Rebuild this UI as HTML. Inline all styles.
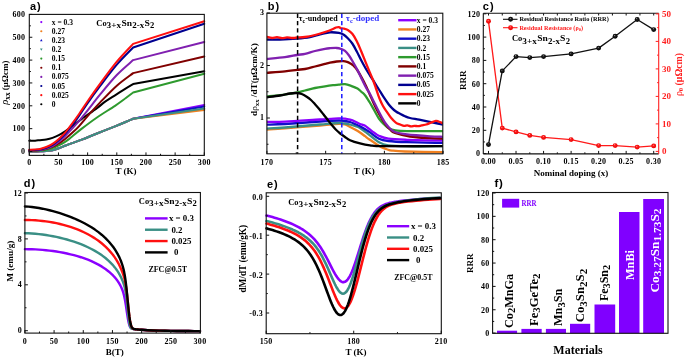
<!DOCTYPE html>
<html><head><meta charset="utf-8"><style>
html,body{margin:0;padding:0;background:#fff;}
body{width:685px;height:359px;overflow:hidden;}
svg{display:block;filter:blur(0.3px);}
</style></head><body>
<svg width="685" height="359" viewBox="0 0 685 359">
<rect width="685" height="359" fill="#fff"/>
<path d="M29.3,151.5 C30.27,151.49 33.35,151.48 35.13,151.45 C36.91,151.43 38.12,151.45 39.98,151.36 C41.83,151.28 44.18,151.12 46.28,150.93 C48.37,150.73 50.43,150.64 52.52,150.2 C54.61,149.76 56.72,149.04 58.82,148.3 C60.92,147.57 63.25,146.52 65.12,145.79 C66.98,145.05 67.24,144.92 70.02,143.89 C72.8,142.86 77.31,141.36 81.8,139.62 C86.29,137.88 91.42,135.66 96.97,133.45 C102.51,131.24 110.29,128.27 115.05,126.36 C119.81,124.46 122.54,123.3 125.55,122.02 C128.56,120.75 131.87,119.26 133.13,118.71 L204.3,104.89" fill="none" stroke="#8b00ff" stroke-width="2.0" stroke-linejoin="round" stroke-linecap="round" />
<path d="M29.3,151.5 C30.27,151.49 33.35,151.48 35.13,151.45 C36.91,151.43 38.12,151.45 39.98,151.36 C41.83,151.28 44.18,151.12 46.28,150.93 C48.37,150.73 50.43,150.64 52.52,150.2 C54.61,149.76 56.72,149.04 58.82,148.3 C60.92,147.57 63.25,146.52 65.12,145.79 C66.98,145.05 67.24,144.92 70.02,143.89 C72.8,142.86 77.31,141.36 81.8,139.62 C86.29,137.88 91.42,135.66 96.97,133.45 C102.51,131.24 110.29,128.27 115.05,126.36 C119.81,124.46 122.54,123.3 125.55,122.02 C128.56,120.75 131.87,119.26 133.13,118.71 L204.3,106.49" fill="none" stroke="#1010c8" stroke-width="2.0" stroke-linejoin="round" stroke-linecap="round" />
<path d="M29.3,151.5 C30.27,151.49 33.35,151.48 35.13,151.45 C36.91,151.43 38.12,151.45 39.98,151.36 C41.83,151.28 44.18,151.12 46.28,150.93 C48.37,150.73 50.43,150.64 52.52,150.2 C54.61,149.76 56.72,149.04 58.82,148.3 C60.92,147.57 63.25,146.52 65.12,145.79 C66.98,145.05 67.24,144.92 70.02,143.89 C72.8,142.86 77.31,141.36 81.8,139.62 C86.29,137.88 91.42,135.66 96.97,133.45 C102.51,131.24 110.29,128.27 115.05,126.36 C119.81,124.46 122.54,123.3 125.55,122.02 C128.56,120.75 131.87,119.26 133.13,118.71 L204.3,109.91" fill="none" stroke="#f08020" stroke-width="2.0" stroke-linejoin="round" stroke-linecap="round" />
<path d="M29.3,151.5 C30.27,151.49 33.35,151.48 35.13,151.45 C36.91,151.43 38.12,151.45 39.98,151.36 C41.83,151.28 44.18,151.12 46.28,150.93 C48.37,150.73 50.43,150.64 52.52,150.2 C54.61,149.76 56.72,149.04 58.82,148.3 C60.92,147.57 63.25,146.52 65.12,145.79 C66.98,145.05 67.24,144.92 70.02,143.89 C72.8,142.86 77.31,141.36 81.8,139.62 C86.29,137.88 91.42,135.66 96.97,133.45 C102.51,131.24 110.29,128.27 115.05,126.36 C119.81,124.46 122.54,123.3 125.55,122.02 C128.56,120.75 131.87,119.26 133.13,118.71 L204.3,108.54" fill="none" stroke="#3a8f85" stroke-width="2.0" stroke-linejoin="round" stroke-linecap="round" />
<path d="M29.3,151.04 C30.27,151.02 33.35,151 35.13,150.93 C36.91,150.85 38.12,150.8 39.98,150.59 C41.83,150.38 44.18,150.09 46.28,149.67 C48.37,149.25 50.43,148.8 52.52,148.07 C54.61,147.35 56.72,146.36 58.82,145.33 C60.92,144.3 63.25,143.08 65.12,141.9 C66.98,140.72 67.24,140.46 70.02,138.25 C72.8,136.04 77.31,132.12 81.8,128.65 C86.29,125.18 91.42,121.26 96.97,117.45 C102.51,113.65 110.29,109 115.05,105.8 C119.81,102.6 122.54,100.47 125.55,98.26 C128.56,96.05 131.87,93.5 133.13,92.55 L204.3,73.81" fill="none" stroke="#2e9a2e" stroke-width="2.0" stroke-linejoin="round" stroke-linecap="round" />
<path d="M29.3,140.76 C30.27,140.74 33.35,140.75 35.13,140.65 C36.91,140.54 38.12,140.33 39.98,140.14 C41.83,139.95 44.18,139.88 46.28,139.5 C48.37,139.13 50.43,138.64 52.52,137.9 C54.61,137.17 56.72,136.21 58.82,135.12 C60.92,134.02 63.25,132.57 65.12,131.32 C66.98,130.07 67.24,129.7 70.02,127.62 C72.8,125.54 77.31,122.08 81.8,118.82 C86.29,115.57 93.08,110.94 96.97,108.09 C100.86,105.23 102.12,103.82 105.13,101.69 C108.15,99.55 111.65,97.46 115.05,95.29 C118.45,93.12 122.54,90.53 125.55,88.66 C128.56,86.8 131.87,84.85 133.13,84.09 L204.3,71.3" fill="none" stroke="#000000" stroke-width="2.0" stroke-linejoin="round" stroke-linecap="round" />
<path d="M29.3,150.7 C30.27,150.66 33.35,150.57 35.13,150.47 C36.91,150.38 38.12,150.38 39.98,150.13 C41.83,149.88 44.18,149.52 46.28,148.99 C48.37,148.45 50.43,147.84 52.52,146.93 C54.61,146.02 56.72,144.84 58.82,143.5 C60.92,142.17 63.25,140.38 65.12,138.93 C66.98,137.49 67.72,136.91 70.02,134.82 C72.31,132.72 75.95,129.49 78.88,126.36 C81.82,123.24 84.08,120.08 87.63,116.08 C91.18,112.08 95.31,107.44 100.17,102.37 C105.04,97.31 111.31,90.57 116.8,85.69 C122.29,80.82 130.41,75.22 133.13,73.12 L204.3,56.44" fill="none" stroke="#800000" stroke-width="2.0" stroke-linejoin="round" stroke-linecap="round" />
<path d="M29.3,150.59 C30.27,150.55 33.35,150.47 35.13,150.36 C36.91,150.24 38.12,150.21 39.98,149.9 C41.83,149.6 44.18,149.18 46.28,148.53 C48.37,147.88 50.43,147.16 52.52,146.02 C54.61,144.87 56.72,143.35 58.82,141.67 C60.92,140 63.25,137.75 65.12,135.96 C66.98,134.17 67.72,133.41 70.02,130.94 C72.31,128.46 75.95,124.54 78.88,121.11 C81.82,117.68 84.08,114.83 87.63,110.37 C91.18,105.91 95.31,100.28 100.17,94.38 C105.04,88.47 111.31,80.67 116.8,74.95 C122.29,69.24 130.41,62.58 133.13,60.1 L204.3,42.05" fill="none" stroke="#8020b0" stroke-width="2.0" stroke-linejoin="round" stroke-linecap="round" />
<path d="M29.3,150.13 C30.27,150.09 33.35,150.01 35.13,149.9 C36.91,149.79 38.12,149.81 39.98,149.44 C41.83,149.08 44.18,148.49 46.28,147.73 C48.37,146.97 50.43,146.15 52.52,144.87 C54.61,143.6 56.72,141.9 58.82,140.07 C60.92,138.25 63.25,135.92 65.12,133.91 C66.98,131.89 67.72,130.94 70.02,127.96 C72.31,124.99 75.95,120.23 78.88,116.08 C81.82,111.93 84.08,108.08 87.63,103.06 C91.18,98.03 95.31,92.32 100.17,85.92 C105.04,79.52 111.31,71.07 116.8,64.67 C122.29,58.27 130.41,50.39 133.13,47.53 L204.3,23.77" fill="none" stroke="#000090" stroke-width="2.0" stroke-linejoin="round" stroke-linecap="round" />
<path d="M29.3,149.67 C30.27,149.63 33.35,149.57 35.13,149.44 C36.91,149.31 38.12,149.3 39.98,148.9 C41.83,148.49 44.18,147.83 46.28,147 C48.37,146.16 50.43,145.24 52.52,143.89 C54.61,142.54 56.72,140.77 58.82,138.89 C60.92,137.01 63.25,134.69 65.12,132.6 C66.98,130.52 67.72,129.42 70.02,126.36 C72.31,123.31 75.95,118.44 78.88,114.25 C81.82,110.07 84.08,106.33 87.63,101.23 C91.18,96.13 95.31,90.22 100.17,83.64 C105.04,77.05 111.31,68.33 116.8,61.7 C122.29,55.07 130.41,46.85 133.13,43.88 L204.3,21.25" fill="none" stroke="#ff1010" stroke-width="2.0" stroke-linejoin="round" stroke-linecap="round" />
<rect x="29.3" y="14.4" width="175" height="141" fill="none" stroke="#111" stroke-width="1.1"/>
<line x1="29.3" y1="155.4" x2="29.3" y2="152.4" stroke="#111" stroke-width="1" />
<line x1="43.88" y1="155.4" x2="43.88" y2="153.8" stroke="#111" stroke-width="1" />
<line x1="58.47" y1="155.4" x2="58.47" y2="152.4" stroke="#111" stroke-width="1" />
<line x1="73.05" y1="155.4" x2="73.05" y2="153.8" stroke="#111" stroke-width="1" />
<line x1="87.63" y1="155.4" x2="87.63" y2="152.4" stroke="#111" stroke-width="1" />
<line x1="102.22" y1="155.4" x2="102.22" y2="153.8" stroke="#111" stroke-width="1" />
<line x1="116.8" y1="155.4" x2="116.8" y2="152.4" stroke="#111" stroke-width="1" />
<line x1="131.38" y1="155.4" x2="131.38" y2="153.8" stroke="#111" stroke-width="1" />
<line x1="145.97" y1="155.4" x2="145.97" y2="152.4" stroke="#111" stroke-width="1" />
<line x1="160.55" y1="155.4" x2="160.55" y2="153.8" stroke="#111" stroke-width="1" />
<line x1="175.13" y1="155.4" x2="175.13" y2="152.4" stroke="#111" stroke-width="1" />
<line x1="189.72" y1="155.4" x2="189.72" y2="153.8" stroke="#111" stroke-width="1" />
<line x1="204.3" y1="155.4" x2="204.3" y2="152.4" stroke="#111" stroke-width="1" />
<line x1="29.3" y1="151.5" x2="32.3" y2="151.5" stroke="#111" stroke-width="1" />
<line x1="29.3" y1="140.07" x2="30.9" y2="140.07" stroke="#111" stroke-width="1" />
<line x1="29.3" y1="128.65" x2="32.3" y2="128.65" stroke="#111" stroke-width="1" />
<line x1="29.3" y1="117.22" x2="30.9" y2="117.22" stroke="#111" stroke-width="1" />
<line x1="29.3" y1="105.8" x2="32.3" y2="105.8" stroke="#111" stroke-width="1" />
<line x1="29.3" y1="94.38" x2="30.9" y2="94.38" stroke="#111" stroke-width="1" />
<line x1="29.3" y1="82.95" x2="32.3" y2="82.95" stroke="#111" stroke-width="1" />
<line x1="29.3" y1="71.52" x2="30.9" y2="71.52" stroke="#111" stroke-width="1" />
<line x1="29.3" y1="60.1" x2="32.3" y2="60.1" stroke="#111" stroke-width="1" />
<line x1="29.3" y1="48.67" x2="30.9" y2="48.67" stroke="#111" stroke-width="1" />
<line x1="29.3" y1="37.25" x2="32.3" y2="37.25" stroke="#111" stroke-width="1" />
<line x1="29.3" y1="25.82" x2="30.9" y2="25.82" stroke="#111" stroke-width="1" />
<line x1="29.3" y1="14.4" x2="32.3" y2="14.4" stroke="#111" stroke-width="1" />
<text x="29.3" y="165" font-family='"Liberation Serif", serif' font-size="8" font-weight="bold" fill="#000" text-anchor="middle" letter-spacing="0.3">0</text>
<text x="58.47" y="165" font-family='"Liberation Serif", serif' font-size="8" font-weight="bold" fill="#000" text-anchor="middle" letter-spacing="0.3">50</text>
<text x="87.63" y="165" font-family='"Liberation Serif", serif' font-size="8" font-weight="bold" fill="#000" text-anchor="middle" letter-spacing="0.3">100</text>
<text x="116.8" y="165" font-family='"Liberation Serif", serif' font-size="8" font-weight="bold" fill="#000" text-anchor="middle" letter-spacing="0.3">150</text>
<text x="145.97" y="165" font-family='"Liberation Serif", serif' font-size="8" font-weight="bold" fill="#000" text-anchor="middle" letter-spacing="0.3">200</text>
<text x="175.13" y="165" font-family='"Liberation Serif", serif' font-size="8" font-weight="bold" fill="#000" text-anchor="middle" letter-spacing="0.3">250</text>
<text x="204.3" y="165" font-family='"Liberation Serif", serif' font-size="8" font-weight="bold" fill="#000" text-anchor="middle" letter-spacing="0.3">300</text>
<text x="25.3" y="154.3" font-family='"Liberation Serif", serif' font-size="8" font-weight="bold" fill="#000" text-anchor="end" letter-spacing="0.3">0</text>
<text x="25.3" y="131.45" font-family='"Liberation Serif", serif' font-size="8" font-weight="bold" fill="#000" text-anchor="end" letter-spacing="0.3">100</text>
<text x="25.3" y="108.6" font-family='"Liberation Serif", serif' font-size="8" font-weight="bold" fill="#000" text-anchor="end" letter-spacing="0.3">200</text>
<text x="25.3" y="85.75" font-family='"Liberation Serif", serif' font-size="8" font-weight="bold" fill="#000" text-anchor="end" letter-spacing="0.3">300</text>
<text x="25.3" y="62.9" font-family='"Liberation Serif", serif' font-size="8" font-weight="bold" fill="#000" text-anchor="end" letter-spacing="0.3">400</text>
<text x="25.3" y="40.05" font-family='"Liberation Serif", serif' font-size="8" font-weight="bold" fill="#000" text-anchor="end" letter-spacing="0.3">500</text>
<text x="25.3" y="17.2" font-family='"Liberation Serif", serif' font-size="8" font-weight="bold" fill="#000" text-anchor="end" letter-spacing="0.3">600</text>
<text x="126" y="174.3" font-family='"Liberation Serif", serif' font-size="9" font-weight="bold" fill="#000" text-anchor="middle" >T (K)</text>
<text x="7.6" y="82.6" font-family='"Liberation Serif", serif' font-size="9" font-weight="bold" fill="#000" text-anchor="middle" transform="rotate(-90 7.6 82.6)" ><tspan font-weight="normal" font-style="italic" font-size="10.5">&#961;</tspan><tspan font-size="7.2" dy="2">xx</tspan><tspan dy="-2"> (&#956;&#937;cm)</tspan></text>
<text x="30" y="9.7" font-family='"Liberation Sans", sans-serif' font-size="11" font-weight="bold" fill="#000" text-anchor="start" letter-spacing="0.9">a)</text>
<text x="96.3" y="25.5" font-family='"Liberation Serif", serif' font-size="9" font-weight="bold" fill="#000" text-anchor="start"  textLength="10.3" lengthAdjust="spacingAndGlyphs">Co</text>
<text x="106.6" y="27.8" font-family='"Liberation Serif", serif' font-size="7.74" font-weight="bold" fill="#000" text-anchor="start"  textLength="14.6" lengthAdjust="spacingAndGlyphs">3+x</text>
<text x="121.5" y="25.5" font-family='"Liberation Serif", serif' font-size="9" font-weight="bold" fill="#000" text-anchor="start"  textLength="10.6" lengthAdjust="spacingAndGlyphs">Sn</text>
<text x="132.3" y="27.8" font-family='"Liberation Serif", serif' font-size="7.74" font-weight="bold" fill="#000" text-anchor="start"  textLength="11.9" lengthAdjust="spacingAndGlyphs">2-x</text>
<text x="144.4" y="25.5" font-family='"Liberation Serif", serif' font-size="9" font-weight="bold" fill="#000" text-anchor="start"  textLength="5.4" lengthAdjust="spacingAndGlyphs">S</text>
<text x="150" y="27.8" font-family='"Liberation Serif", serif' font-size="7.74" font-weight="bold" fill="#000" text-anchor="start"  textLength="4.3" lengthAdjust="spacingAndGlyphs">2</text>
<circle cx="41.3" cy="22.1" r="1.1" fill="#8b00ff"/>
<text x="51.8" y="24.7" font-family='"Liberation Serif", serif' font-size="7.5" font-weight="bold" fill="#000" text-anchor="start" >x = 0.3</text>
<circle cx="41.3" cy="31.23" r="1.1" fill="#f08020"/>
<text x="51.8" y="33.83" font-family='"Liberation Serif", serif' font-size="7.5" font-weight="bold" fill="#000" text-anchor="start" >0.27</text>
<path d="M41.3,39.06 l1.3,2.2 h-2.6 z" fill="#1010c8"/>
<text x="51.8" y="42.96" font-family='"Liberation Serif", serif' font-size="7.5" font-weight="bold" fill="#000" text-anchor="start" >0.23</text>
<path d="M41.3,50.79 l1.3,-2.2 h-2.6 z" fill="#3a8f85"/>
<text x="51.8" y="52.09" font-family='"Liberation Serif", serif' font-size="7.5" font-weight="bold" fill="#000" text-anchor="start" >0.2</text>
<circle cx="41.3" cy="58.62" r="1.1" fill="#2e9a2e"/>
<text x="51.8" y="61.22" font-family='"Liberation Serif", serif' font-size="7.5" font-weight="bold" fill="#000" text-anchor="start" >0.15</text>
<circle cx="41.3" cy="67.75" r="1.1" fill="#800000"/>
<text x="51.8" y="70.35" font-family='"Liberation Serif", serif' font-size="7.5" font-weight="bold" fill="#000" text-anchor="start" >0.1</text>
<circle cx="41.3" cy="76.88" r="1.1" fill="#8020b0"/>
<text x="51.8" y="79.48" font-family='"Liberation Serif", serif' font-size="7.5" font-weight="bold" fill="#000" text-anchor="start" >0.075</text>
<circle cx="41.3" cy="86.01" r="1.1" fill="#000090"/>
<text x="51.8" y="88.61" font-family='"Liberation Serif", serif' font-size="7.5" font-weight="bold" fill="#000" text-anchor="start" >0.05</text>
<circle cx="41.3" cy="95.14" r="1.1" fill="#ff1010"/>
<text x="51.8" y="97.74" font-family='"Liberation Serif", serif' font-size="7.5" font-weight="bold" fill="#000" text-anchor="start" >0.025</text>
<circle cx="41.3" cy="104.27" r="1.1" fill="#000000"/>
<text x="51.8" y="106.87" font-family='"Liberation Serif", serif' font-size="7.5" font-weight="bold" fill="#000" text-anchor="start" >0</text>
<clipPath id="cb"><rect x="266.9" y="13.2" width="175.90000000000003" height="140.60000000000002"/></clipPath>
<g clip-path="url(#cb)">
<path d="M267,129.5 C270,129.32 276.17,129.07 285,128.4 C293.83,127.73 311.08,126.25 320,125.5 C328.92,124.75 334.33,124.07 338.5,123.9 C342.67,123.73 343.08,123.98 345,124.5 C346.92,125.02 348.33,126.17 350,127 C351.67,127.83 353.33,128.58 355,129.5 C356.67,130.42 358.33,131.38 360,132.5 C361.67,133.62 363.42,135.03 365,136.2 C366.58,137.37 368,138.45 369.5,139.5 C371,140.55 372.5,141.5 374,142.5 C375.5,143.5 377,144.6 378.5,145.5 C380,146.4 381.5,147.23 383,147.9 C384.5,148.57 386,149.05 387.5,149.5 C389,149.95 389.08,150.27 392,150.6 C394.92,150.93 396.5,151.23 405,151.5 C413.5,151.77 436.67,152.08 443,152.2" fill="none" stroke="#f08020" stroke-width="2.3" stroke-linejoin="round" stroke-linecap="round" />
<path d="M267,128.6 C270,128.42 276.17,128.18 285,127.5 C293.83,126.82 311.08,125.25 320,124.5 C328.92,123.75 334.33,123.17 338.5,123 C342.67,122.83 343.08,123.25 345,123.5 C346.92,123.75 348.33,124.08 350,124.5 C351.67,124.92 353.33,125.42 355,126 C356.67,126.58 357.58,126.48 360,128 C362.42,129.52 366.35,132.73 369.5,135.1 C372.65,137.47 375.75,140.5 378.9,142.2 C382.05,143.9 383.72,144.63 388.4,145.3 C393.08,145.97 397.9,146.05 407,146.2 C416.1,146.35 437,146.2 443,146.2" fill="none" stroke="#3a8f85" stroke-width="2.3" stroke-linejoin="round" stroke-linecap="round" />
<path d="M267,124.6 C270,124.5 276.17,124.52 285,124 C293.83,123.48 311.08,122.08 320,121.5 C328.92,120.92 334.33,120.58 338.5,120.5 C342.67,120.42 343.08,120.75 345,121 C346.92,121.25 348.33,121.5 350,122 C351.67,122.5 353.33,123.28 355,124 C356.67,124.72 357.58,124.97 360,126.3 C362.42,127.63 366.35,129.93 369.5,132 C372.65,134.07 375.75,137.2 378.9,138.7 C382.05,140.2 383.72,140.42 388.4,141 C393.08,141.58 397.9,141.88 407,142.2 C416.1,142.52 437,142.78 443,142.9" fill="none" stroke="#1010c8" stroke-width="2.3" stroke-linejoin="round" stroke-linecap="round" />
<path d="M267,121.9 C270,121.87 276.17,122.1 285,121.7 C293.83,121.3 311.08,120.05 320,119.5 C328.92,118.95 334.33,118.55 338.5,118.4 C342.67,118.25 343.08,118.38 345,118.6 C346.92,118.82 348.33,119.22 350,119.7 C351.67,120.18 353.33,120.78 355,121.5 C356.67,122.22 358.38,123.32 360,124 C361.62,124.68 363.12,124.73 364.7,125.6 C366.28,126.47 367.92,128.02 369.5,129.2 C371.08,130.38 372.63,131.6 374.2,132.7 C375.77,133.8 376.53,134.8 378.9,135.8 C381.27,136.8 383.72,138.03 388.4,138.7 C393.08,139.37 397.9,139.5 407,139.8 C416.1,140.1 437,140.38 443,140.5" fill="none" stroke="#8b00ff" stroke-width="2.3" stroke-linejoin="round" stroke-linecap="round" />
<path d="M267,96.4 C269.17,96.2 276.17,95.67 280,95.2 C283.83,94.73 287.28,94.03 290,93.6 C292.72,93.17 293.8,93.12 296.3,92.6 C298.8,92.08 301.88,91.27 305,90.5 C308.12,89.73 311.67,88.7 315,88 C318.33,87.3 322,86.77 325,86.3 C328,85.83 330.68,85.47 333,85.2 C335.32,84.93 336.9,84.87 338.9,84.7 C340.9,84.53 342.98,84.02 345,84.2 C347.02,84.38 348.92,85.08 351,85.8 C353.08,86.52 355.83,87.55 357.5,88.5 C359.17,89.45 359.75,90.38 361,91.5 C362.25,92.62 363.58,93.45 365,95.2 C366.42,96.95 367.97,99.5 369.5,102 C371.03,104.5 372.63,107.45 374.2,110.2 C375.77,112.95 377.32,116.2 378.9,118.5 C380.48,120.8 382.12,122.42 383.7,124 C385.28,125.58 386.43,126.93 388.4,128 C390.37,129.07 392.4,129.88 395.5,130.4 C398.6,130.92 399.08,130.98 407,131.1 C414.92,131.22 437,131.1 443,131.1" fill="none" stroke="#2e9a2e" stroke-width="2.3" stroke-linejoin="round" stroke-linecap="round" />
<path d="M267,97.3 C269.17,97 276.17,96.13 280,95.5 C283.83,94.87 287.22,93.92 290,93.5 C292.78,93.08 294.75,92.92 296.7,93 C298.65,93.08 300.03,93.38 301.7,94 C303.37,94.62 305.15,95.7 306.7,96.7 C308.25,97.7 309.62,98.75 311,100 C312.38,101.25 313.63,102.7 315,104.2 C316.37,105.7 317.8,107.32 319.2,109 C320.6,110.68 322,112.5 323.4,114.3 C324.8,116.1 326.2,118 327.6,119.8 C329,121.6 330.4,123.43 331.8,125.1 C333.2,126.77 334.6,128.4 336,129.8 C337.4,131.2 338.7,132.3 340.2,133.5 C341.7,134.7 343.37,135.88 345,137 C346.63,138.12 347.5,139.13 350,140.2 C352.5,141.27 356.67,142.55 360,143.4 C363.33,144.25 366,144.83 370,145.3 C374,145.77 371.83,146.05 384,146.2 C396.17,146.35 433.17,146.2 443,146.2" fill="none" stroke="#000000" stroke-width="2.3" stroke-linejoin="round" stroke-linecap="round" />
<path d="M267,72.8 C270,72.55 280,71.8 285,71.3 C290,70.8 293.67,70.18 297,69.8 C300.33,69.42 302,69.55 305,69 C308,68.45 311.67,67.37 315,66.5 C318.33,65.63 322.5,64.45 325,63.8 C327.5,63.15 328.05,62.98 330,62.6 C331.95,62.22 334.47,61.73 336.7,61.5 C338.93,61.27 341.68,61.15 343.4,61.2 C345.12,61.25 345.9,61.47 347,61.8 C348.1,62.13 348.95,62.58 350,63.2 C351.05,63.82 352.05,64.28 353.3,65.5 C354.55,66.72 356.1,68.48 357.5,70.5 C358.9,72.52 360.28,75.02 361.7,77.6 C363.12,80.18 364.62,83.1 366,86 C367.38,88.9 368.67,92 370,95 C371.33,98 372.67,101.17 374,104 C375.33,106.83 376.67,109.5 378,112 C379.33,114.5 380.67,116.83 382,119 C383.33,121.17 384.67,123.25 386,125 C387.33,126.75 388.5,128.17 390,129.5 C391.5,130.83 391.67,131.83 395,133 C398.33,134.17 404.17,135.63 410,136.5 C415.83,137.37 424.5,137.83 430,138.2 C435.5,138.57 440.83,138.62 443,138.7" fill="none" stroke="#800000" stroke-width="2.3" stroke-linejoin="round" stroke-linecap="round" />
<path d="M267,59 C270,58.7 280,57.87 285,57.2 C290,56.53 293.67,55.57 297,55 C300.33,54.43 302,54.47 305,53.8 C308,53.13 311.67,51.83 315,51 C318.33,50.17 322.5,49.27 325,48.8 C327.5,48.33 328.05,48.33 330,48.2 C331.95,48.07 334.83,47.87 336.7,48 C338.57,48.13 339.82,48.52 341.2,49 C342.58,49.48 343.7,49.82 345,50.9 C346.3,51.98 347.67,53.65 349,55.5 C350.33,57.35 351.58,59.57 353,62 C354.42,64.43 356,67.18 357.5,70.1 C359,73.02 360.58,76.6 362,79.5 C363.42,82.4 364.67,85.08 366,87.5 C367.33,89.92 368.67,91.58 370,94 C371.33,96.42 372.67,99.33 374,102 C375.33,104.67 376.67,107.42 378,110 C379.33,112.58 380.67,115.17 382,117.5 C383.33,119.83 384.67,122.17 386,124 C387.33,125.83 388.5,127.17 390,128.5 C391.5,129.83 392.17,131.02 395,132 C397.83,132.98 401.17,133.68 407,134.4 C412.83,135.12 424,135.9 430,136.3 C436,136.7 440.83,136.72 443,136.8" fill="none" stroke="#8020b0" stroke-width="2.3" stroke-linejoin="round" stroke-linecap="round" />
<path d="M267,39.6 C269.17,39.58 275,39.68 280,39.5 C285,39.32 292,38.92 297,38.5 C302,38.08 306.17,37.67 310,37 C313.83,36.33 316.67,35.28 320,34.5 C323.33,33.72 326.85,32.57 330,32.3 C333.15,32.03 336.67,32.53 338.9,32.9 C341.13,33.27 341.92,33.62 343.4,34.5 C344.88,35.38 346.32,36.7 347.8,38.2 C349.28,39.7 350.8,41.28 352.3,43.5 C353.8,45.72 355.32,48.7 356.8,51.5 C358.28,54.3 359.72,57.47 361.2,60.3 C362.68,63.13 364.2,65.92 365.7,68.5 C367.2,71.08 368.72,73.45 370.2,75.8 C371.68,78.15 373.15,80.32 374.6,82.6 C376.05,84.88 377.38,87.07 378.9,89.5 C380.42,91.93 382.12,94.78 383.7,97.2 C385.28,99.62 387.02,102.18 388.4,104 C389.78,105.82 390.73,106.85 392,108.1 C393.27,109.35 394.67,110.55 396,111.5 C397.33,112.45 398.5,113 400,113.8 C401.5,114.6 403.33,115.6 405,116.3 C406.67,117 407.63,117.43 410,118 C412.37,118.57 415.7,119.02 419.2,119.7 C422.7,120.38 427.03,121.3 431,122.1 C434.97,122.9 441,124.1 443,124.5" fill="none" stroke="#000090" stroke-width="2.3" stroke-linejoin="round" stroke-linecap="round" />
<path d="M267,37 C267.83,37.17 270.33,37.97 272,38 C273.67,38.03 275.33,37.17 277,37.2 C278.67,37.23 280.33,38.17 282,38.2 C283.67,38.23 285.33,37.43 287,37.4 C288.67,37.37 290.33,37.98 292,38 C293.67,38.02 294.83,37.67 297,37.5 C299.17,37.33 302,37.42 305,37 C308,36.58 311.67,35.83 315,35 C318.33,34.17 322,33 325,32 C328,31 331.17,29.75 333,29 C334.83,28.25 335.02,27.82 336,27.5 C336.98,27.18 338.07,26.97 338.9,27.1 C339.73,27.23 340.25,28.07 341,28.3 C341.75,28.53 342.27,28.22 343.4,28.5 C344.53,28.78 346.32,29.12 347.8,30 C349.28,30.88 350.8,31.93 352.3,33.8 C353.8,35.67 355.32,38.3 356.8,41.2 C358.28,44.1 359.72,47.67 361.2,51.2 C362.68,54.73 364.27,58.87 365.7,62.4 C367.13,65.93 368.58,69.47 369.8,72.4 C371.02,75.33 371.97,77.32 373,80 C374.03,82.68 374.92,85.42 376,88.5 C377.08,91.58 378.33,95.58 379.5,98.5 C380.67,101.42 381.8,103.8 383,106 C384.2,108.2 385.4,109.78 386.7,111.7 C388,113.62 389.28,115.68 390.8,117.5 C392.32,119.32 394.23,121.43 395.8,122.6 C397.37,123.77 398.83,123.95 400.2,124.5 C401.57,125.05 402.82,125.77 404,125.9 C405.18,126.03 406.13,125.23 407.3,125.3 C408.47,125.37 409.8,126.22 411,126.3 C412.2,126.38 413.33,125.82 414.5,125.8 C415.67,125.78 416.82,126.27 418,126.2 C419.18,126.13 420.22,125.68 421.6,125.4 C422.98,125.12 424.73,124.97 426.3,124.5 C427.87,124.03 429.42,123.2 431,122.6 C432.58,122 434.55,121.08 435.8,120.9 C437.05,120.72 437.3,121.1 438.5,121.5 C439.7,121.9 442.25,123 443,123.3" fill="none" stroke="#ff1010" stroke-width="2.3" stroke-linejoin="round" stroke-linecap="round" />
</g>
<line x1="297.6" y1="13.6" x2="297.6" y2="153.8" stroke="#000" stroke-width="1.5" stroke-dasharray="4.3,3"/>
<line x1="341.8" y1="13.6" x2="341.8" y2="153.8" stroke="#1a1aff" stroke-width="1.5" stroke-dasharray="4.3,3"/>
<rect x="266.9" y="13.2" width="175.9" height="140.6" fill="none" stroke="#111" stroke-width="1.1"/>
<line x1="266.9" y1="153.8" x2="266.9" y2="150.8" stroke="#111" stroke-width="1" />
<line x1="296.27" y1="153.8" x2="296.27" y2="152.2" stroke="#111" stroke-width="1" />
<line x1="325.65" y1="153.8" x2="325.65" y2="150.8" stroke="#111" stroke-width="1" />
<line x1="355.02" y1="153.8" x2="355.02" y2="152.2" stroke="#111" stroke-width="1" />
<line x1="384.4" y1="153.8" x2="384.4" y2="150.8" stroke="#111" stroke-width="1" />
<line x1="413.77" y1="153.8" x2="413.77" y2="152.2" stroke="#111" stroke-width="1" />
<line x1="443.15" y1="153.8" x2="443.15" y2="150.8" stroke="#111" stroke-width="1" />
<line x1="266.9" y1="144.25" x2="268.5" y2="144.25" stroke="#111" stroke-width="1" />
<line x1="266.9" y1="118" x2="269.9" y2="118" stroke="#111" stroke-width="1" />
<line x1="266.9" y1="91.75" x2="268.5" y2="91.75" stroke="#111" stroke-width="1" />
<line x1="266.9" y1="65.5" x2="269.9" y2="65.5" stroke="#111" stroke-width="1" />
<line x1="266.9" y1="39.25" x2="268.5" y2="39.25" stroke="#111" stroke-width="1" />
<line x1="266.9" y1="13" x2="269.9" y2="13" stroke="#111" stroke-width="1" />
<text x="266.9" y="165" font-family='"Liberation Serif", serif' font-size="8" font-weight="bold" fill="#000" text-anchor="middle" letter-spacing="0.3">170</text>
<text x="325.65" y="165" font-family='"Liberation Serif", serif' font-size="8" font-weight="bold" fill="#000" text-anchor="middle" letter-spacing="0.3">175</text>
<text x="384.4" y="165" font-family='"Liberation Serif", serif' font-size="8" font-weight="bold" fill="#000" text-anchor="middle" letter-spacing="0.3">180</text>
<text x="443.15" y="165" font-family='"Liberation Serif", serif' font-size="8" font-weight="bold" fill="#000" text-anchor="middle" letter-spacing="0.3">185</text>
<text x="264.3" y="120" font-family='"Liberation Serif", serif' font-size="8" font-weight="bold" fill="#000" text-anchor="end" letter-spacing="0.3">1</text>
<text x="264.3" y="67.5" font-family='"Liberation Serif", serif' font-size="8" font-weight="bold" fill="#000" text-anchor="end" letter-spacing="0.3">2</text>
<text x="264.3" y="15" font-family='"Liberation Serif", serif' font-size="8" font-weight="bold" fill="#000" text-anchor="end" letter-spacing="0.3">3</text>
<text x="364.2" y="174.3" font-family='"Liberation Serif", serif' font-size="9" font-weight="bold" fill="#000" text-anchor="middle" >T (K)</text>
<text x="257" y="79.6" font-family='"Liberation Serif", serif' font-size="9.2" font-weight="bold" fill="#000" text-anchor="middle" transform="rotate(-90 257 79.6)" >d<tspan font-weight="normal">&#961;</tspan><tspan font-size="6.8" dy="1.9">xx</tspan><tspan dy="-1.9"> /dT(&#956;&#937;cm/K)</tspan></text>
<text x="267.8" y="9.8" font-family='"Liberation Sans", sans-serif' font-size="11" font-weight="bold" fill="#000" text-anchor="start" letter-spacing="0.9">b)</text>
<text x="298.8" y="21.2" font-family='"Liberation Serif", serif' font-size="8" font-weight="bold" fill="#000" text-anchor="start" >&#964;<tspan font-size="6" dy="1.5">c</tspan><tspan dy="-1.5">-undoped</tspan></text>
<text x="345.8" y="21.2" font-family='"Liberation Serif", serif' font-size="9" font-weight="bold" fill="#3333ff" text-anchor="start" >&#964;<tspan font-size="6.5" dy="1.5">c</tspan><tspan dy="-1.5">-doped</tspan></text>
<line x1="398.2" y1="20.2" x2="416.5" y2="20.2" stroke="#8b00ff" stroke-width="2.4" />
<text x="416.8" y="22.8" font-family='"Liberation Serif", serif' font-size="7.5" font-weight="bold" fill="#000" text-anchor="start" >x = 0.3</text>
<line x1="398.2" y1="29.44" x2="416.5" y2="29.44" stroke="#f08020" stroke-width="2.4" />
<text x="416.8" y="32.04" font-family='"Liberation Serif", serif' font-size="7.5" font-weight="bold" fill="#000" text-anchor="start" >0.27</text>
<line x1="398.2" y1="38.68" x2="416.5" y2="38.68" stroke="#1010c8" stroke-width="2.4" />
<text x="416.8" y="41.28" font-family='"Liberation Serif", serif' font-size="7.5" font-weight="bold" fill="#000" text-anchor="start" >0.23</text>
<line x1="398.2" y1="47.92" x2="416.5" y2="47.92" stroke="#3a8f85" stroke-width="2.4" />
<text x="416.8" y="50.52" font-family='"Liberation Serif", serif' font-size="7.5" font-weight="bold" fill="#000" text-anchor="start" >0.2</text>
<line x1="398.2" y1="57.16" x2="416.5" y2="57.16" stroke="#2e9a2e" stroke-width="2.4" />
<text x="416.8" y="59.76" font-family='"Liberation Serif", serif' font-size="7.5" font-weight="bold" fill="#000" text-anchor="start" >0.15</text>
<line x1="398.2" y1="66.4" x2="416.5" y2="66.4" stroke="#800000" stroke-width="2.4" />
<text x="416.8" y="69" font-family='"Liberation Serif", serif' font-size="7.5" font-weight="bold" fill="#000" text-anchor="start" >0.1</text>
<line x1="398.2" y1="75.64" x2="416.5" y2="75.64" stroke="#8020b0" stroke-width="2.4" />
<text x="416.8" y="78.24" font-family='"Liberation Serif", serif' font-size="7.5" font-weight="bold" fill="#000" text-anchor="start" >0.075</text>
<line x1="398.2" y1="84.88" x2="416.5" y2="84.88" stroke="#000090" stroke-width="2.4" />
<text x="416.8" y="87.48" font-family='"Liberation Serif", serif' font-size="7.5" font-weight="bold" fill="#000" text-anchor="start" >0.05</text>
<line x1="398.2" y1="94.12" x2="416.5" y2="94.12" stroke="#ff1010" stroke-width="2.4" />
<text x="416.8" y="96.72" font-family='"Liberation Serif", serif' font-size="7.5" font-weight="bold" fill="#000" text-anchor="start" >0.025</text>
<line x1="398.2" y1="103.36" x2="416.5" y2="103.36" stroke="#000000" stroke-width="2.4" />
<text x="416.8" y="105.96" font-family='"Liberation Serif", serif' font-size="7.5" font-weight="bold" fill="#000" text-anchor="start" >0</text>
<defs><radialGradient id="gk" cx="0.5" cy="0.5" fx="0.4" fy="0.3" r="0.5"><stop offset="0" stop-color="#bbb"/><stop offset="0.3" stop-color="#222"/><stop offset="1" stop-color="#000"/></radialGradient><radialGradient id="gr" cx="0.5" cy="0.5" fx="0.4" fy="0.3" r="0.5"><stop offset="0" stop-color="#ffc0c0"/><stop offset="0.3" stop-color="#ff2020"/><stop offset="1" stop-color="#e80000"/></radialGradient></defs>
<path d="M488.5,21.3 L502.27,128.1 L516.03,131.9 L529.8,135.4 L543.57,137.4 L571.11,139.6 L598.64,145.6 L615.16,145.6 L637.19,147.1 L653.71,145.9" fill="none" stroke="#ff1a1a" stroke-width="1.3" stroke-linejoin="round" stroke-linecap="round" />
<path d="M488.5,144.6 L502.27,70.9 L516.03,56.6 L529.8,57.6 L543.57,56.6 L571.11,53.9 L598.64,48.1 L615.16,36.3 L637.19,19.5 L653.71,29.6" fill="none" stroke="#111" stroke-width="1.3" stroke-linejoin="round" stroke-linecap="round" />
<circle cx="488.5" cy="21.3" r="2.45" fill="url(#gr)"/>
<circle cx="502.27" cy="128.1" r="2.45" fill="url(#gr)"/>
<circle cx="516.03" cy="131.9" r="2.45" fill="url(#gr)"/>
<circle cx="529.8" cy="135.4" r="2.45" fill="url(#gr)"/>
<circle cx="543.57" cy="137.4" r="2.45" fill="url(#gr)"/>
<circle cx="571.11" cy="139.6" r="2.45" fill="url(#gr)"/>
<circle cx="598.64" cy="145.6" r="2.45" fill="url(#gr)"/>
<circle cx="615.16" cy="145.6" r="2.45" fill="url(#gr)"/>
<circle cx="637.19" cy="147.1" r="2.45" fill="url(#gr)"/>
<circle cx="653.71" cy="145.9" r="2.45" fill="url(#gr)"/>
<circle cx="488.5" cy="144.6" r="2.45" fill="url(#gk)"/>
<circle cx="502.27" cy="70.9" r="2.45" fill="url(#gk)"/>
<circle cx="516.03" cy="56.6" r="2.45" fill="url(#gk)"/>
<circle cx="529.8" cy="57.6" r="2.45" fill="url(#gk)"/>
<circle cx="543.57" cy="56.6" r="2.45" fill="url(#gk)"/>
<circle cx="571.11" cy="53.9" r="2.45" fill="url(#gk)"/>
<circle cx="598.64" cy="48.1" r="2.45" fill="url(#gk)"/>
<circle cx="615.16" cy="36.3" r="2.45" fill="url(#gk)"/>
<circle cx="637.19" cy="19.5" r="2.45" fill="url(#gk)"/>
<circle cx="653.71" cy="29.6" r="2.45" fill="url(#gk)"/>
<line x1="483.3" y1="13.3" x2="658.7" y2="13.3" stroke="#111" stroke-width="1.1" />
<line x1="483.3" y1="153.9" x2="658.7" y2="153.9" stroke="#111" stroke-width="1.1" />
<line x1="483.3" y1="13.3" x2="483.3" y2="153.9" stroke="#111" stroke-width="1.1" />
<line x1="658.7" y1="13.3" x2="658.7" y2="153.9" stroke="#ff2020" stroke-width="1.1" />
<line x1="488.5" y1="153.9" x2="488.5" y2="150.9" stroke="#111" stroke-width="1" />
<line x1="488.5" y1="13.3" x2="488.5" y2="15.5" stroke="#111" stroke-width="1" />
<line x1="502.27" y1="153.9" x2="502.27" y2="152.3" stroke="#111" stroke-width="1" />
<line x1="502.27" y1="13.3" x2="502.27" y2="15.5" stroke="#111" stroke-width="1" />
<line x1="516.03" y1="153.9" x2="516.03" y2="150.9" stroke="#111" stroke-width="1" />
<line x1="516.03" y1="13.3" x2="516.03" y2="15.5" stroke="#111" stroke-width="1" />
<line x1="529.8" y1="153.9" x2="529.8" y2="152.3" stroke="#111" stroke-width="1" />
<line x1="529.8" y1="13.3" x2="529.8" y2="15.5" stroke="#111" stroke-width="1" />
<line x1="543.57" y1="153.9" x2="543.57" y2="150.9" stroke="#111" stroke-width="1" />
<line x1="543.57" y1="13.3" x2="543.57" y2="15.5" stroke="#111" stroke-width="1" />
<line x1="557.34" y1="153.9" x2="557.34" y2="152.3" stroke="#111" stroke-width="1" />
<line x1="557.34" y1="13.3" x2="557.34" y2="15.5" stroke="#111" stroke-width="1" />
<line x1="571.11" y1="153.9" x2="571.11" y2="150.9" stroke="#111" stroke-width="1" />
<line x1="571.11" y1="13.3" x2="571.11" y2="15.5" stroke="#111" stroke-width="1" />
<line x1="584.87" y1="153.9" x2="584.87" y2="152.3" stroke="#111" stroke-width="1" />
<line x1="584.87" y1="13.3" x2="584.87" y2="15.5" stroke="#111" stroke-width="1" />
<line x1="598.64" y1="153.9" x2="598.64" y2="150.9" stroke="#111" stroke-width="1" />
<line x1="598.64" y1="13.3" x2="598.64" y2="15.5" stroke="#111" stroke-width="1" />
<line x1="612.41" y1="153.9" x2="612.41" y2="152.3" stroke="#111" stroke-width="1" />
<line x1="612.41" y1="13.3" x2="612.41" y2="15.5" stroke="#111" stroke-width="1" />
<line x1="626.17" y1="153.9" x2="626.17" y2="150.9" stroke="#111" stroke-width="1" />
<line x1="626.17" y1="13.3" x2="626.17" y2="15.5" stroke="#111" stroke-width="1" />
<line x1="639.94" y1="153.9" x2="639.94" y2="152.3" stroke="#111" stroke-width="1" />
<line x1="639.94" y1="13.3" x2="639.94" y2="15.5" stroke="#111" stroke-width="1" />
<line x1="653.71" y1="153.9" x2="653.71" y2="150.9" stroke="#111" stroke-width="1" />
<line x1="653.71" y1="13.3" x2="653.71" y2="15.5" stroke="#111" stroke-width="1" />
<line x1="483.3" y1="153.6" x2="486.3" y2="153.6" stroke="#111" stroke-width="1" />
<line x1="483.3" y1="141.95" x2="484.9" y2="141.95" stroke="#111" stroke-width="1" />
<line x1="483.3" y1="130.3" x2="486.3" y2="130.3" stroke="#111" stroke-width="1" />
<line x1="483.3" y1="118.65" x2="484.9" y2="118.65" stroke="#111" stroke-width="1" />
<line x1="483.3" y1="107" x2="486.3" y2="107" stroke="#111" stroke-width="1" />
<line x1="483.3" y1="95.35" x2="484.9" y2="95.35" stroke="#111" stroke-width="1" />
<line x1="483.3" y1="83.7" x2="486.3" y2="83.7" stroke="#111" stroke-width="1" />
<line x1="483.3" y1="72.05" x2="484.9" y2="72.05" stroke="#111" stroke-width="1" />
<line x1="483.3" y1="60.4" x2="486.3" y2="60.4" stroke="#111" stroke-width="1" />
<line x1="483.3" y1="48.75" x2="484.9" y2="48.75" stroke="#111" stroke-width="1" />
<line x1="483.3" y1="37.1" x2="486.3" y2="37.1" stroke="#111" stroke-width="1" />
<line x1="483.3" y1="25.45" x2="484.9" y2="25.45" stroke="#111" stroke-width="1" />
<line x1="483.3" y1="13.8" x2="486.3" y2="13.8" stroke="#111" stroke-width="1" />
<line x1="658.7" y1="151.4" x2="655.7" y2="151.4" stroke="#ff2020" stroke-width="1" />
<line x1="658.7" y1="137.65" x2="657.1" y2="137.65" stroke="#ff2020" stroke-width="1" />
<line x1="658.7" y1="123.9" x2="655.7" y2="123.9" stroke="#ff2020" stroke-width="1" />
<line x1="658.7" y1="110.15" x2="657.1" y2="110.15" stroke="#ff2020" stroke-width="1" />
<line x1="658.7" y1="96.4" x2="655.7" y2="96.4" stroke="#ff2020" stroke-width="1" />
<line x1="658.7" y1="82.65" x2="657.1" y2="82.65" stroke="#ff2020" stroke-width="1" />
<line x1="658.7" y1="68.9" x2="655.7" y2="68.9" stroke="#ff2020" stroke-width="1" />
<line x1="658.7" y1="55.15" x2="657.1" y2="55.15" stroke="#ff2020" stroke-width="1" />
<line x1="658.7" y1="41.4" x2="655.7" y2="41.4" stroke="#ff2020" stroke-width="1" />
<line x1="658.7" y1="27.65" x2="657.1" y2="27.65" stroke="#ff2020" stroke-width="1" />
<line x1="658.7" y1="13.9" x2="655.7" y2="13.9" stroke="#ff2020" stroke-width="1" />
<text x="488.5" y="164.3" font-family='"Liberation Serif", serif' font-size="8" font-weight="bold" fill="#000" text-anchor="middle" letter-spacing="0.3">0.00</text>
<text x="516.03" y="164.3" font-family='"Liberation Serif", serif' font-size="8" font-weight="bold" fill="#000" text-anchor="middle" letter-spacing="0.3">0.05</text>
<text x="543.57" y="164.3" font-family='"Liberation Serif", serif' font-size="8" font-weight="bold" fill="#000" text-anchor="middle" letter-spacing="0.3">0.10</text>
<text x="571.11" y="164.3" font-family='"Liberation Serif", serif' font-size="8" font-weight="bold" fill="#000" text-anchor="middle" letter-spacing="0.3">0.15</text>
<text x="598.64" y="164.3" font-family='"Liberation Serif", serif' font-size="8" font-weight="bold" fill="#000" text-anchor="middle" letter-spacing="0.3">0.20</text>
<text x="626.17" y="164.3" font-family='"Liberation Serif", serif' font-size="8" font-weight="bold" fill="#000" text-anchor="middle" letter-spacing="0.3">0.25</text>
<text x="653.71" y="164.3" font-family='"Liberation Serif", serif' font-size="8" font-weight="bold" fill="#000" text-anchor="middle" letter-spacing="0.3">0.30</text>
<text x="480.3" y="156.4" font-family='"Liberation Serif", serif' font-size="8" font-weight="bold" fill="#000" text-anchor="end" letter-spacing="0.3">0</text>
<text x="480.3" y="133.1" font-family='"Liberation Serif", serif' font-size="8" font-weight="bold" fill="#000" text-anchor="end" letter-spacing="0.3">20</text>
<text x="480.3" y="109.8" font-family='"Liberation Serif", serif' font-size="8" font-weight="bold" fill="#000" text-anchor="end" letter-spacing="0.3">40</text>
<text x="480.3" y="86.5" font-family='"Liberation Serif", serif' font-size="8" font-weight="bold" fill="#000" text-anchor="end" letter-spacing="0.3">60</text>
<text x="480.3" y="63.2" font-family='"Liberation Serif", serif' font-size="8" font-weight="bold" fill="#000" text-anchor="end" letter-spacing="0.3">80</text>
<text x="480.3" y="39.9" font-family='"Liberation Serif", serif' font-size="8" font-weight="bold" fill="#000" text-anchor="end" letter-spacing="0.3">100</text>
<text x="480.3" y="16.6" font-family='"Liberation Serif", serif' font-size="8" font-weight="bold" fill="#000" text-anchor="end" letter-spacing="0.3">120</text>
<text x="661.9" y="154" font-family='"Liberation Serif", serif' font-size="9" font-weight="bold" fill="#ff2020" text-anchor="start" >0</text>
<text x="661.9" y="126.5" font-family='"Liberation Serif", serif' font-size="9" font-weight="bold" fill="#ff2020" text-anchor="start" >10</text>
<text x="661.9" y="99" font-family='"Liberation Serif", serif' font-size="9" font-weight="bold" fill="#ff2020" text-anchor="start" >20</text>
<text x="661.9" y="71.5" font-family='"Liberation Serif", serif' font-size="9" font-weight="bold" fill="#ff2020" text-anchor="start" >30</text>
<text x="661.9" y="44" font-family='"Liberation Serif", serif' font-size="9" font-weight="bold" fill="#ff2020" text-anchor="start" >40</text>
<text x="661.9" y="16.5" font-family='"Liberation Serif", serif' font-size="9" font-weight="bold" fill="#ff2020" text-anchor="start" >50</text>
<text x="571" y="175.9" font-family='"Liberation Serif", serif' font-size="9" font-weight="bold" fill="#000" text-anchor="middle" >Nominal doping (x)</text>
<text x="466.5" y="80.3" font-family='"Liberation Serif", serif' font-size="9" font-weight="bold" fill="#000" text-anchor="middle" transform="rotate(-90 466.5 80.3)" >RRR</text>
<text x="681.6" y="74.5" font-family='"Liberation Serif", serif' font-size="9.8" font-weight="bold" fill="#ff2020" text-anchor="middle" transform="rotate(-90 681.6 74.5)" ><tspan font-weight="normal">&#961;</tspan><tspan font-size="6.5" dy="1.8">0</tspan><tspan dy="-1.8"> (&#956;&#937;cm)</tspan></text>
<text x="482.8" y="10" font-family='"Liberation Sans", sans-serif' font-size="11" font-weight="bold" fill="#000" text-anchor="start" letter-spacing="1.2">c)</text>
<line x1="503" y1="19.3" x2="517.5" y2="19.3" stroke="#111" stroke-width="1.1" />
<circle cx="510.6" cy="19.3" r="2.45" fill="url(#gk)"/>
<text x="519.4" y="21.4" font-family='"Liberation Serif", serif' font-size="6.3" font-weight="bold" fill="#000" text-anchor="start"  textLength="89.4" lengthAdjust="spacingAndGlyphs">Residual Resistance Ratio (RRR)</text>
<line x1="503" y1="27.7" x2="517.5" y2="27.7" stroke="#ff1a1a" stroke-width="1.1" />
<circle cx="510.6" cy="27.7" r="2.45" fill="url(#gr)"/>
<text x="519.4" y="29.8" font-family='"Liberation Serif", serif' font-size="6.2" font-weight="bold" fill="#ff1a1a" text-anchor="start" >Residual Resistance (&#961;<tspan font-size="4.5" dy="1.2">0</tspan><tspan dy="-1.2">)</tspan></text>
<text x="512" y="41.3" font-family='"Liberation Serif", serif' font-size="9" font-weight="bold" fill="#000" text-anchor="start"  textLength="10.3" lengthAdjust="spacingAndGlyphs">Co</text>
<text x="522.3" y="43.6" font-family='"Liberation Serif", serif' font-size="7.74" font-weight="bold" fill="#000" text-anchor="start"  textLength="14.6" lengthAdjust="spacingAndGlyphs">3+x</text>
<text x="537.2" y="41.3" font-family='"Liberation Serif", serif' font-size="9" font-weight="bold" fill="#000" text-anchor="start"  textLength="10.6" lengthAdjust="spacingAndGlyphs">Sn</text>
<text x="548" y="43.6" font-family='"Liberation Serif", serif' font-size="7.74" font-weight="bold" fill="#000" text-anchor="start"  textLength="11.9" lengthAdjust="spacingAndGlyphs">2-x</text>
<text x="560.1" y="41.3" font-family='"Liberation Serif", serif' font-size="9" font-weight="bold" fill="#000" text-anchor="start"  textLength="5.4" lengthAdjust="spacingAndGlyphs">S</text>
<text x="565.7" y="43.6" font-family='"Liberation Serif", serif' font-size="7.74" font-weight="bold" fill="#000" text-anchor="start"  textLength="4.3" lengthAdjust="spacingAndGlyphs">2</text>
<path d="M24.9,249.14 L28.4,249.18 L31.9,249.27 L35.41,249.42 L38.91,249.63 L42.41,249.89 L45.91,250.22 L49.42,250.6 L52.92,251.05 L56.42,251.56 L59.92,252.13 L63.42,252.78 L66.93,253.5 L70.43,254.3 L73.93,255.18 L77.43,256.15 L80.94,257.23 L84.44,258.42 L87.94,259.73 L91.44,261.19 L94.94,262.81 L98.45,264.62 L101.95,266.66 L105.45,268.99 L108.95,271.68 L112.45,274.87 L113.04,275.46 L113.62,276.07 L114.21,276.71 L114.79,277.37 L115.37,278.06 L115.96,278.77 L116.54,279.52 L117.12,280.3 L117.71,281.13 L118.29,281.99 L118.88,282.9 L119.46,283.87 L120.04,284.9 L120.63,286.01 L121.21,287.21 L121.79,288.52 L122.38,290 L122.96,291.68 L123.55,293.63 L124.13,295.93 L124.71,298.65 L125.3,301.83 L125.88,305.43 L126.46,309.33 L127.05,313.32 L127.63,317.12 L128.21,320.48 L128.8,323.21 L129.38,325.27 L129.97,326.69 L130.55,327.59 L131.13,328.2 L131.72,328.56 L132.3,328.78 L132.88,328.91 L133.47,329.01 L134.05,329.09 L134.64,329.16 L135.22,329.23 L135.8,329.29 L136.39,329.35 L136.97,329.41 L137.55,329.47 L138.14,329.52 L138.72,329.58 L139.31,329.63 L139.89,329.68 L140.47,329.73 L141.06,329.77 L141.64,329.82 L147.48,330.2 L153.31,330.47 L159.15,330.67 L164.99,330.81 L170.83,330.91 L176.66,330.98 L182.5,331.03 L188.34,331.07 L194.17,331.09 L200.01,331.11" fill="none" stroke="#8b00ff" stroke-width="2.4" stroke-linejoin="round" stroke-linecap="round" />
<path d="M24.9,233.21 L28.4,233.29 L31.9,233.48 L35.41,233.75 L38.91,234.1 L42.41,234.53 L45.91,235.02 L49.42,235.59 L52.92,236.23 L56.42,236.93 L59.92,237.72 L63.42,238.58 L66.93,239.52 L70.43,240.54 L73.93,241.66 L77.43,242.88 L80.94,244.21 L84.44,245.65 L87.94,247.23 L91.44,248.97 L94.94,250.88 L98.45,252.99 L101.95,255.35 L105.45,258.01 L108.95,261.06 L112.45,264.62 L113.04,265.28 L113.62,265.96 L114.21,266.66 L114.79,267.38 L115.37,268.14 L115.96,268.92 L116.54,269.73 L117.12,270.57 L117.71,271.46 L118.29,272.38 L118.88,273.35 L119.46,274.37 L120.04,275.44 L120.63,276.57 L121.21,277.77 L121.79,279.04 L122.38,280.41 L122.96,281.88 L123.55,283.5 L124.13,285.34 L124.71,287.55 L125.3,290.33 L125.88,293.9 L126.46,298.38 L127.05,303.7 L127.63,309.47 L128.21,315.08 L128.8,319.92 L129.38,323.59 L129.97,326.03 L130.55,327.45 L131.13,328.24 L131.72,328.63 L132.3,328.83 L132.88,328.94 L133.47,329.02 L134.05,329.09 L134.64,329.16 L135.22,329.23 L135.8,329.29 L136.39,329.35 L136.97,329.41 L137.55,329.47 L138.14,329.52 L138.72,329.58 L139.31,329.63 L139.89,329.68 L140.47,329.73 L141.06,329.77 L141.64,329.82 L147.48,330.2 L153.31,330.47 L159.15,330.67 L164.99,330.81 L170.83,330.91 L176.66,330.98 L182.5,331.03 L188.34,331.07 L194.17,331.09 L200.01,331.11" fill="none" stroke="#3a8f85" stroke-width="2.4" stroke-linejoin="round" stroke-linecap="round" />
<path d="M24.9,219.96 L28.4,220.01 L31.9,220.13 L35.41,220.32 L38.91,220.6 L42.41,220.95 L45.91,221.39 L49.42,221.91 L52.92,222.51 L56.42,223.19 L59.92,223.97 L63.42,224.84 L66.93,225.82 L70.43,226.9 L73.93,228.1 L77.43,229.42 L80.94,230.87 L84.44,232.48 L87.94,234.25 L91.44,236.21 L94.94,238.38 L98.45,240.8 L101.95,243.52 L105.45,246.59 L108.95,250.12 L112.45,254.24 L113.04,255 L113.62,255.79 L114.21,256.6 L114.79,257.43 L115.37,258.3 L115.96,259.2 L116.54,260.13 L117.12,261.1 L117.71,262.11 L118.29,263.16 L118.88,264.27 L119.46,265.42 L120.04,266.63 L120.63,267.91 L121.21,269.26 L121.79,270.68 L122.38,272.2 L122.96,273.82 L123.55,275.59 L124.13,277.55 L124.71,279.81 L125.3,282.51 L125.88,285.79 L126.46,289.8 L127.05,294.55 L127.63,299.91 L128.21,305.57 L128.8,311.13 L129.38,316.17 L129.97,320.35 L130.55,323.53 L131.13,325.81 L131.72,327.27 L132.3,328.14 L132.88,328.63 L133.47,328.89 L134.05,329.05 L134.64,329.15 L135.22,329.22 L135.8,329.29 L136.39,329.35 L136.97,329.41 L137.55,329.47 L138.14,329.52 L138.72,329.58 L139.31,329.63 L139.89,329.68 L140.47,329.73 L141.06,329.77 L141.64,329.82 L147.48,330.2 L153.31,330.47 L159.15,330.67 L164.99,330.81 L170.83,330.91 L176.66,330.98 L182.5,331.03 L188.34,331.07 L194.17,331.09 L200.01,331.11" fill="none" stroke="#ff1010" stroke-width="2.4" stroke-linejoin="round" stroke-linecap="round" />
<path d="M24.9,206.47 L28.4,206.65 L31.9,207.01 L35.41,207.48 L38.91,208.05 L42.41,208.7 L45.91,209.44 L49.42,210.25 L52.92,211.14 L56.42,212.11 L59.92,213.17 L63.42,214.3 L66.93,215.53 L70.43,216.85 L73.93,218.27 L77.43,219.8 L80.94,221.46 L84.44,223.24 L87.94,225.18 L91.44,227.29 L94.94,229.6 L98.45,232.14 L101.95,234.96 L105.45,238.14 L108.95,241.76 L112.45,245.98 L113.04,246.76 L113.62,247.57 L114.21,248.4 L114.79,249.26 L115.37,250.15 L115.96,251.08 L116.54,252.05 L117.12,253.05 L117.71,254.1 L118.29,255.2 L118.88,256.36 L119.46,257.58 L120.04,258.87 L120.63,260.25 L121.21,261.72 L121.79,263.32 L122.38,265.07 L122.96,267.02 L123.55,269.26 L124.13,271.86 L124.71,274.96 L125.3,278.68 L125.88,283.1 L126.46,288.24 L127.05,293.95 L127.63,299.99 L128.21,305.99 L128.8,311.58 L129.38,316.44 L129.97,320.4 L130.55,323.39 L131.13,325.58 L131.72,327.04 L132.3,327.95 L132.88,328.5 L133.47,328.82 L134.05,329.01 L134.64,329.13 L135.22,329.21 L135.8,329.29 L136.39,329.35 L136.97,329.41 L137.55,329.47 L138.14,329.52 L138.72,329.58 L139.31,329.63 L139.89,329.68 L140.47,329.73 L141.06,329.77 L141.64,329.82 L147.48,330.2 L153.31,330.47 L159.15,330.67 L164.99,330.81 L170.83,330.91 L176.66,330.98 L182.5,331.03 L188.34,331.07 L194.17,331.09 L200.01,331.11" fill="none" stroke="#000000" stroke-width="2.4" stroke-linejoin="round" stroke-linecap="round" />
<rect x="24.9" y="192.5" width="175.5" height="140.6" fill="none" stroke="#111" stroke-width="1.1"/>
<line x1="24.9" y1="333.1" x2="24.9" y2="330.1" stroke="#111" stroke-width="1" />
<line x1="39.49" y1="333.1" x2="39.49" y2="331.5" stroke="#111" stroke-width="1" />
<line x1="54.08" y1="333.1" x2="54.08" y2="330.1" stroke="#111" stroke-width="1" />
<line x1="68.68" y1="333.1" x2="68.68" y2="331.5" stroke="#111" stroke-width="1" />
<line x1="83.27" y1="333.1" x2="83.27" y2="330.1" stroke="#111" stroke-width="1" />
<line x1="97.86" y1="333.1" x2="97.86" y2="331.5" stroke="#111" stroke-width="1" />
<line x1="112.45" y1="333.1" x2="112.45" y2="330.1" stroke="#111" stroke-width="1" />
<line x1="127.05" y1="333.1" x2="127.05" y2="331.5" stroke="#111" stroke-width="1" />
<line x1="141.64" y1="333.1" x2="141.64" y2="330.1" stroke="#111" stroke-width="1" />
<line x1="156.23" y1="333.1" x2="156.23" y2="331.5" stroke="#111" stroke-width="1" />
<line x1="170.83" y1="333.1" x2="170.83" y2="330.1" stroke="#111" stroke-width="1" />
<line x1="185.42" y1="333.1" x2="185.42" y2="331.5" stroke="#111" stroke-width="1" />
<line x1="200.01" y1="333.1" x2="200.01" y2="330.1" stroke="#111" stroke-width="1" />
<line x1="24.9" y1="330.7" x2="27.9" y2="330.7" stroke="#111" stroke-width="1" />
<line x1="24.9" y1="307.75" x2="26.5" y2="307.75" stroke="#111" stroke-width="1" />
<line x1="24.9" y1="284.8" x2="27.9" y2="284.8" stroke="#111" stroke-width="1" />
<line x1="24.9" y1="261.85" x2="26.5" y2="261.85" stroke="#111" stroke-width="1" />
<line x1="24.9" y1="238.9" x2="27.9" y2="238.9" stroke="#111" stroke-width="1" />
<line x1="24.9" y1="215.95" x2="26.5" y2="215.95" stroke="#111" stroke-width="1" />
<line x1="24.9" y1="193" x2="27.9" y2="193" stroke="#111" stroke-width="1" />
<text x="24.9" y="343.7" font-family='"Liberation Serif", serif' font-size="8" font-weight="bold" fill="#000" text-anchor="middle" letter-spacing="0.3">0</text>
<text x="54.08" y="343.7" font-family='"Liberation Serif", serif' font-size="8" font-weight="bold" fill="#000" text-anchor="middle" letter-spacing="0.3">50</text>
<text x="83.27" y="343.7" font-family='"Liberation Serif", serif' font-size="8" font-weight="bold" fill="#000" text-anchor="middle" letter-spacing="0.3">100</text>
<text x="112.45" y="343.7" font-family='"Liberation Serif", serif' font-size="8" font-weight="bold" fill="#000" text-anchor="middle" letter-spacing="0.3">150</text>
<text x="141.64" y="343.7" font-family='"Liberation Serif", serif' font-size="8" font-weight="bold" fill="#000" text-anchor="middle" letter-spacing="0.3">200</text>
<text x="170.83" y="343.7" font-family='"Liberation Serif", serif' font-size="8" font-weight="bold" fill="#000" text-anchor="middle" letter-spacing="0.3">250</text>
<text x="200.01" y="343.7" font-family='"Liberation Serif", serif' font-size="8" font-weight="bold" fill="#000" text-anchor="middle" letter-spacing="0.3">300</text>
<text x="22" y="333.3" font-family='"Liberation Serif", serif' font-size="8" font-weight="bold" fill="#000" text-anchor="end" letter-spacing="0.3">0</text>
<text x="22" y="287.4" font-family='"Liberation Serif", serif' font-size="8" font-weight="bold" fill="#000" text-anchor="end" letter-spacing="0.3">4</text>
<text x="22" y="241.5" font-family='"Liberation Serif", serif' font-size="8" font-weight="bold" fill="#000" text-anchor="end" letter-spacing="0.3">8</text>
<text x="22" y="195.6" font-family='"Liberation Serif", serif' font-size="8" font-weight="bold" fill="#000" text-anchor="end" letter-spacing="0.3">12</text>
<text x="114.7" y="354.6" font-family='"Liberation Serif", serif' font-size="9" font-weight="bold" fill="#000" text-anchor="middle" >B(T)</text>
<text x="12.8" y="261.2" font-family='"Liberation Serif", serif' font-size="9.2" font-weight="bold" fill="#000" text-anchor="middle" transform="rotate(-90 12.8 261.2)" >M (emu/g)</text>
<text x="23.8" y="186.8" font-family='"Liberation Sans", sans-serif' font-size="11" font-weight="bold" fill="#000" text-anchor="start" letter-spacing="0.9">d)</text>
<text x="138.8" y="203.8" font-family='"Liberation Serif", serif' font-size="9" font-weight="bold" fill="#000" text-anchor="start"  textLength="10.3" lengthAdjust="spacingAndGlyphs">Co</text>
<text x="149.1" y="206.1" font-family='"Liberation Serif", serif' font-size="7.74" font-weight="bold" fill="#000" text-anchor="start"  textLength="14.6" lengthAdjust="spacingAndGlyphs">3+x</text>
<text x="164" y="203.8" font-family='"Liberation Serif", serif' font-size="9" font-weight="bold" fill="#000" text-anchor="start"  textLength="10.6" lengthAdjust="spacingAndGlyphs">Sn</text>
<text x="174.8" y="206.1" font-family='"Liberation Serif", serif' font-size="7.74" font-weight="bold" fill="#000" text-anchor="start"  textLength="11.9" lengthAdjust="spacingAndGlyphs">2-x</text>
<text x="186.9" y="203.8" font-family='"Liberation Serif", serif' font-size="9" font-weight="bold" fill="#000" text-anchor="start"  textLength="5.4" lengthAdjust="spacingAndGlyphs">S</text>
<text x="192.5" y="206.1" font-family='"Liberation Serif", serif' font-size="7.74" font-weight="bold" fill="#000" text-anchor="start"  textLength="4.3" lengthAdjust="spacingAndGlyphs">2</text>
<line x1="145" y1="218.4" x2="167.6" y2="218.4" stroke="#8b00ff" stroke-width="2.4" />
<text x="168.9" y="221.4" font-family='"Liberation Serif", serif' font-size="8.9" font-weight="bold" fill="#000" text-anchor="start" >x = 0.3</text>
<line x1="145" y1="229.73" x2="167.6" y2="229.73" stroke="#3a8f85" stroke-width="2.4" />
<text x="171.4" y="232.73" font-family='"Liberation Serif", serif' font-size="8.9" font-weight="bold" fill="#000" text-anchor="start" >0.2</text>
<line x1="145" y1="241.06" x2="167.6" y2="241.06" stroke="#ff1010" stroke-width="2.4" />
<text x="171.4" y="244.06" font-family='"Liberation Serif", serif' font-size="8.9" font-weight="bold" fill="#000" text-anchor="start" >0.025</text>
<line x1="145" y1="252.39" x2="167.6" y2="252.39" stroke="#000000" stroke-width="2.4" />
<text x="173.9" y="255.39" font-family='"Liberation Serif", serif' font-size="8.9" font-weight="bold" fill="#000" text-anchor="start" >0</text>
<text x="148.4" y="271.6" font-family='"Liberation Serif", serif' font-size="8" font-weight="bold" fill="#000" text-anchor="start"  textLength="38.8" lengthAdjust="spacingAndGlyphs">ZFC@0.5T</text>
<path d="M266.5,215.48 L268.5,215.99 L270.5,216.52 L272.5,217.08 L274.5,217.65 L276.5,218.25 L278.5,218.88 L280.5,219.53 L282.5,220.21 L284.5,220.92 L286.5,221.67 L288.5,222.46 L290.5,223.29 L292.5,224.16 L294.5,225.09 L296.5,226.08 L298.5,227.13 L300.5,228.25 L302.5,229.46 L304.5,230.77 L306.5,232.19 L308.5,233.75 L310.5,235.46 L312.5,237.36 L314.5,239.46 L316.5,241.8 L318.5,244.4 L320,246.53 L321,248.04 L322,249.62 L323,251.27 L324,252.99 L325,254.77 L326,256.61 L327,258.5 L328,260.44 L329,262.4 L330,264.38 L331,266.35 L332,268.31 L333,270.23 L334,272.09 L335,273.87 L336,275.54 L337,277.07 L338,278.45 L339,279.65 L340,280.64 L341,281.4 L342,281.91 L343,282.16 L344,282.13 L345,281.81 L346,281.19 L347,280.27 L348,279.06 L349,277.55 L350,275.77 L351,273.72 L352,271.43 L353,268.92 L354,266.22 L355,263.35 L356,260.35 L357,257.25 L358,254.07 L359,250.86 L360,247.64 L361,244.45 L362,241.3 L363,238.23 L364,235.25 L365,232.39 L366,229.66 L367,227.07 L368,224.64 L369,222.36 L370,220.25 L371,218.3 L372,216.51 L373,214.87 L374,213.39 L375,212.04 L376,210.84 L377,209.75 L378,208.78 L379,207.92 L380,207.15 L381,206.47 L382,205.87 L383,205.33 L384,204.85 L385,204.43 L386,204.05 L387,203.71 L388,203.41 L389,203.13 L390,202.88 L391,202.65 L392,202.44 L393,202.24 L394,202.06 L395,201.89 L396,201.72 L397,201.57 L398,201.42 L399,201.28 L400,201.15 L404,200.65 L408,200.21 L412,199.82 L416,199.47 L420,199.15 L424,198.87 L428,198.61 L432,198.38 L436,198.18 L440,197.99" fill="none" stroke="#8b00ff" stroke-width="2.6" stroke-linejoin="round" stroke-linecap="round" />
<path d="M266.5,221.02 L268.5,221.52 L270.5,222.05 L272.5,222.59 L274.5,223.15 L276.5,223.74 L278.5,224.35 L280.5,224.99 L282.5,225.66 L284.5,226.37 L286.5,227.1 L288.5,227.88 L290.5,228.7 L292.5,229.56 L294.5,230.48 L296.5,231.46 L298.5,232.51 L300.5,233.64 L302.5,234.85 L304.5,236.18 L306.5,237.62 L308.5,239.22 L310.5,240.98 L312.5,242.96 L314.5,245.17 L316.5,247.67 L318.5,250.48 L320,252.81 L321,254.48 L322,256.24 L323,258.1 L324,260.04 L325,262.06 L326,264.17 L327,266.34 L328,268.58 L329,270.86 L330,273.16 L331,275.48 L332,277.78 L333,280.03 L334,282.22 L335,284.31 L336,286.26 L337,288.06 L338,289.65 L339,291.02 L340,292.14 L341,292.96 L342,293.47 L343,293.66 L344,293.49 L345,292.97 L346,292.08 L347,290.83 L348,289.22 L349,287.26 L350,284.99 L351,282.4 L352,279.55 L353,276.46 L354,273.17 L355,269.71 L356,266.12 L357,262.46 L358,258.75 L359,255.03 L360,251.35 L361,247.73 L362,244.21 L363,240.81 L364,237.55 L365,234.46 L366,231.54 L367,228.8 L368,226.25 L369,223.9 L370,221.73 L371,219.74 L372,217.94 L373,216.3 L374,214.83 L375,213.5 L376,212.3 L377,211.23 L378,210.28 L379,209.42 L380,208.65 L381,207.97 L382,207.35 L383,206.79 L384,206.29 L385,205.83 L386,205.42 L387,205.03 L388,204.68 L389,204.35 L390,204.04 L391,203.76 L392,203.48 L393,203.23 L394,202.99 L395,202.75 L396,202.53 L397,202.32 L398,202.12 L399,201.92 L400,201.73 L404,201.05 L408,200.45 L412,199.92 L416,199.47 L420,199.07 L424,198.72 L428,198.42 L432,198.15 L436,197.92 L440,197.71" fill="none" stroke="#3a8f85" stroke-width="2.6" stroke-linejoin="round" stroke-linecap="round" />
<path d="M266.5,223.58 L268.5,224.1 L270.5,224.64 L272.5,225.2 L274.5,225.79 L276.5,226.4 L278.5,227.05 L280.5,227.72 L282.5,228.43 L284.5,229.18 L286.5,229.97 L288.5,230.8 L290.5,231.69 L292.5,232.64 L294.5,233.65 L296.5,234.73 L298.5,235.91 L300.5,237.18 L302.5,238.57 L304.5,240.11 L306.5,241.8 L308.5,243.69 L310.5,245.8 L312.5,248.17 L314.5,250.84 L316.5,253.84 L318.5,257.19 L320,259.96 L321,261.92 L322,263.98 L323,266.13 L324,268.37 L325,270.7 L326,273.1 L327,275.56 L328,278.09 L329,280.65 L330,283.23 L331,285.82 L332,288.39 L333,290.91 L334,293.38 L335,295.75 L336,298 L337,300.1 L338,302.02 L339,303.74 L340,305.22 L341,306.45 L342,307.39 L343,308.03 L344,308.34 L345,308.32 L346,307.95 L347,307.23 L348,306.15 L349,304.71 L350,302.93 L351,300.82 L352,298.39 L353,295.66 L354,292.67 L355,289.43 L356,285.98 L357,282.34 L358,278.57 L359,274.68 L360,270.73 L361,266.73 L362,262.72 L363,258.75 L364,254.83 L365,250.99 L366,247.26 L367,243.67 L368,240.22 L369,236.93 L370,233.82 L371,230.89 L372,228.15 L373,225.6 L374,223.24 L375,221.06 L376,219.07 L377,217.25 L378,215.6 L379,214.11 L380,212.77 L381,211.56 L382,210.48 L383,209.52 L384,208.66 L385,207.9 L386,207.22 L387,206.62 L388,206.09 L389,205.62 L390,205.2 L391,204.82 L392,204.48 L393,204.18 L394,203.91 L395,203.66 L396,203.43 L397,203.22 L398,203.02 L399,202.84 L400,202.67 L404,202.08 L408,201.57 L412,201.12 L416,200.72 L420,200.35 L424,200.01 L428,199.7 L432,199.42 L436,199.16 L440,198.92" fill="none" stroke="#ff1010" stroke-width="2.6" stroke-linejoin="round" stroke-linecap="round" />
<path d="M266.5,228.38 L268.5,228.92 L270.5,229.49 L272.5,230.08 L274.5,230.71 L276.5,231.37 L278.5,232.06 L280.5,232.79 L282.5,233.56 L284.5,234.38 L286.5,235.26 L288.5,236.19 L290.5,237.2 L292.5,238.28 L294.5,239.45 L296.5,240.73 L298.5,242.14 L300.5,243.69 L302.5,245.42 L304.5,247.35 L306.5,249.52 L308.5,251.97 L310.5,254.73 L312.5,257.85 L314.5,261.35 L316.5,265.26 L318.5,269.58 L320,273.08 L321,275.53 L322,278.05 L323,280.65 L324,283.31 L325,286.01 L326,288.73 L327,291.46 L328,294.16 L329,296.83 L330,299.42 L331,301.91 L332,304.28 L333,306.48 L334,308.5 L335,310.3 L336,311.84 L337,313.12 L338,314.09 L339,314.74 L340,315.05 L341,315 L342,314.58 L343,313.79 L344,312.62 L345,311.09 L346,309.19 L347,306.93 L348,304.35 L349,301.46 L350,298.28 L351,294.86 L352,291.21 L353,287.38 L354,283.4 L355,279.3 L356,275.13 L357,270.93 L358,266.72 L359,262.54 L360,258.42 L361,254.39 L362,250.47 L363,246.7 L364,243.07 L365,239.62 L366,236.35 L367,233.27 L368,230.39 L369,227.7 L370,225.21 L371,222.91 L372,220.8 L373,218.87 L374,217.12 L375,215.53 L376,214.09 L377,212.79 L378,211.62 L379,210.57 L380,209.64 L381,208.8 L382,208.05 L383,207.38 L384,206.77 L385,206.24 L386,205.75 L387,205.31 L388,204.92 L389,204.56 L390,204.23 L391,203.93 L392,203.65 L393,203.39 L394,203.15 L395,202.93 L396,202.71 L397,202.51 L398,202.32 L399,202.14 L400,201.97 L404,201.34 L408,200.79 L412,200.31 L416,199.88 L420,199.49 L424,199.15 L428,198.85 L432,198.57 L436,198.33 L440,198.11" fill="none" stroke="#000000" stroke-width="2.6" stroke-linejoin="round" stroke-linecap="round" />
<rect x="266.2" y="192.8" width="175.1" height="140.9" fill="none" stroke="#111" stroke-width="1.1"/>
<line x1="266.2" y1="333.7" x2="266.2" y2="330.7" stroke="#111" stroke-width="1" />
<line x1="309.95" y1="333.7" x2="309.95" y2="332.1" stroke="#111" stroke-width="1" />
<line x1="353.71" y1="333.7" x2="353.71" y2="330.7" stroke="#111" stroke-width="1" />
<line x1="397.46" y1="333.7" x2="397.46" y2="332.1" stroke="#111" stroke-width="1" />
<line x1="441.22" y1="333.7" x2="441.22" y2="330.7" stroke="#111" stroke-width="1" />
<line x1="266.2" y1="196.3" x2="269.2" y2="196.3" stroke="#111" stroke-width="1" />
<line x1="266.2" y1="215.75" x2="267.8" y2="215.75" stroke="#111" stroke-width="1" />
<line x1="266.2" y1="235.2" x2="269.2" y2="235.2" stroke="#111" stroke-width="1" />
<line x1="266.2" y1="254.65" x2="267.8" y2="254.65" stroke="#111" stroke-width="1" />
<line x1="266.2" y1="274.1" x2="269.2" y2="274.1" stroke="#111" stroke-width="1" />
<line x1="266.2" y1="293.55" x2="267.8" y2="293.55" stroke="#111" stroke-width="1" />
<line x1="266.2" y1="313" x2="269.2" y2="313" stroke="#111" stroke-width="1" />
<text x="266.2" y="343.7" font-family='"Liberation Serif", serif' font-size="8" font-weight="bold" fill="#000" text-anchor="middle" letter-spacing="0.3">150</text>
<text x="353.71" y="343.7" font-family='"Liberation Serif", serif' font-size="8" font-weight="bold" fill="#000" text-anchor="middle" letter-spacing="0.3">180</text>
<text x="441.22" y="343.7" font-family='"Liberation Serif", serif' font-size="8" font-weight="bold" fill="#000" text-anchor="middle" letter-spacing="0.3">210</text>
<text x="263.1" y="199.7" font-family='"Liberation Serif", serif' font-size="8" font-weight="bold" fill="#000" text-anchor="end" letter-spacing="0.3">0.0</text>
<text x="263.1" y="238.6" font-family='"Liberation Serif", serif' font-size="8" font-weight="bold" fill="#000" text-anchor="end" letter-spacing="0.3">-0.1</text>
<text x="263.1" y="277.5" font-family='"Liberation Serif", serif' font-size="8" font-weight="bold" fill="#000" text-anchor="end" letter-spacing="0.3">-0.2</text>
<text x="263.1" y="316.4" font-family='"Liberation Serif", serif' font-size="8" font-weight="bold" fill="#000" text-anchor="end" letter-spacing="0.3">-0.3</text>
<text x="356" y="355.2" font-family='"Liberation Serif", serif' font-size="9" font-weight="bold" fill="#000" text-anchor="middle" >T (K)</text>
<text x="245.9" y="258.7" font-family='"Liberation Serif", serif' font-size="9.3" font-weight="bold" fill="#000" text-anchor="middle" transform="rotate(-90 245.9 258.7)" >dM/dT (emu/gK)</text>
<text x="267.1" y="187.6" font-family='"Liberation Sans", sans-serif' font-size="11" font-weight="bold" fill="#000" text-anchor="start" letter-spacing="0.9">e)</text>
<text x="288.2" y="205" font-family='"Liberation Serif", serif' font-size="9" font-weight="bold" fill="#000" text-anchor="start"  textLength="10.3" lengthAdjust="spacingAndGlyphs">Co</text>
<text x="298.5" y="207.3" font-family='"Liberation Serif", serif' font-size="7.74" font-weight="bold" fill="#000" text-anchor="start"  textLength="14.6" lengthAdjust="spacingAndGlyphs">3+x</text>
<text x="313.4" y="205" font-family='"Liberation Serif", serif' font-size="9" font-weight="bold" fill="#000" text-anchor="start"  textLength="10.6" lengthAdjust="spacingAndGlyphs">Sn</text>
<text x="324.2" y="207.3" font-family='"Liberation Serif", serif' font-size="7.74" font-weight="bold" fill="#000" text-anchor="start"  textLength="11.9" lengthAdjust="spacingAndGlyphs">2-x</text>
<text x="336.3" y="205" font-family='"Liberation Serif", serif' font-size="9" font-weight="bold" fill="#000" text-anchor="start"  textLength="5.4" lengthAdjust="spacingAndGlyphs">S</text>
<text x="341.9" y="207.3" font-family='"Liberation Serif", serif' font-size="7.74" font-weight="bold" fill="#000" text-anchor="start"  textLength="4.3" lengthAdjust="spacingAndGlyphs">2</text>
<line x1="387" y1="226.2" x2="409.2" y2="226.2" stroke="#8b00ff" stroke-width="2.4" />
<text x="410.9" y="229.2" font-family='"Liberation Serif", serif' font-size="8.9" font-weight="bold" fill="#000" text-anchor="start" >x = 0.3</text>
<line x1="387" y1="237.5" x2="409.2" y2="237.5" stroke="#3a8f85" stroke-width="2.4" />
<text x="413" y="240.5" font-family='"Liberation Serif", serif' font-size="8.9" font-weight="bold" fill="#000" text-anchor="start" >0.2</text>
<line x1="387" y1="248.8" x2="409.2" y2="248.8" stroke="#ff1010" stroke-width="2.4" />
<text x="413" y="251.8" font-family='"Liberation Serif", serif' font-size="8.9" font-weight="bold" fill="#000" text-anchor="start" >0.025</text>
<line x1="387" y1="260.1" x2="409.2" y2="260.1" stroke="#000000" stroke-width="2.4" />
<text x="416" y="263.1" font-family='"Liberation Serif", serif' font-size="8.9" font-weight="bold" fill="#000" text-anchor="start" >0</text>
<text x="394.2" y="280.3" font-family='"Liberation Serif", serif' font-size="8" font-weight="bold" fill="#000" text-anchor="start"  textLength="38.2" lengthAdjust="spacingAndGlyphs">ZFC@0.5T</text>
<rect x="497" y="330.7" width="20.1" height="2.6" fill="#8000ff"/>
<rect x="521.4" y="328.9" width="20.3" height="4.4" fill="#8000ff"/>
<rect x="545.9" y="328.9" width="20.1" height="4.4" fill="#8000ff"/>
<rect x="570" y="323.8" width="20.2" height="9.5" fill="#8000ff"/>
<rect x="594.5" y="304.5" width="20.7" height="28.8" fill="#8000ff"/>
<rect x="619" y="212" width="20.5" height="121.3" fill="#8000ff"/>
<rect x="643.2" y="199" width="20.8" height="134.3" fill="#8000ff"/>
<rect x="492.6" y="192.5" width="175.4" height="140.8" fill="none" stroke="#111" stroke-width="1.1"/>
<line x1="492.6" y1="333.1" x2="495.6" y2="333.1" stroke="#111" stroke-width="1" />
<line x1="492.6" y1="321.43" x2="494.2" y2="321.43" stroke="#111" stroke-width="1" />
<line x1="492.6" y1="309.75" x2="495.6" y2="309.75" stroke="#111" stroke-width="1" />
<line x1="492.6" y1="298.08" x2="494.2" y2="298.08" stroke="#111" stroke-width="1" />
<line x1="492.6" y1="286.4" x2="495.6" y2="286.4" stroke="#111" stroke-width="1" />
<line x1="492.6" y1="274.73" x2="494.2" y2="274.73" stroke="#111" stroke-width="1" />
<line x1="492.6" y1="263.05" x2="495.6" y2="263.05" stroke="#111" stroke-width="1" />
<line x1="492.6" y1="251.38" x2="494.2" y2="251.38" stroke="#111" stroke-width="1" />
<line x1="492.6" y1="239.7" x2="495.6" y2="239.7" stroke="#111" stroke-width="1" />
<line x1="492.6" y1="228.03" x2="494.2" y2="228.03" stroke="#111" stroke-width="1" />
<line x1="492.6" y1="216.35" x2="495.6" y2="216.35" stroke="#111" stroke-width="1" />
<line x1="492.6" y1="204.68" x2="494.2" y2="204.68" stroke="#111" stroke-width="1" />
<line x1="492.6" y1="193" x2="495.6" y2="193" stroke="#111" stroke-width="1" />
<text x="489.5" y="335.9" font-family='"Liberation Serif", serif' font-size="8" font-weight="bold" fill="#000" text-anchor="end" letter-spacing="0.3">0</text>
<text x="489.5" y="312.55" font-family='"Liberation Serif", serif' font-size="8" font-weight="bold" fill="#000" text-anchor="end" letter-spacing="0.3">20</text>
<text x="489.5" y="289.2" font-family='"Liberation Serif", serif' font-size="8" font-weight="bold" fill="#000" text-anchor="end" letter-spacing="0.3">40</text>
<text x="489.5" y="265.85" font-family='"Liberation Serif", serif' font-size="8" font-weight="bold" fill="#000" text-anchor="end" letter-spacing="0.3">60</text>
<text x="489.5" y="242.5" font-family='"Liberation Serif", serif' font-size="8" font-weight="bold" fill="#000" text-anchor="end" letter-spacing="0.3">80</text>
<text x="489.5" y="219.15" font-family='"Liberation Serif", serif' font-size="8" font-weight="bold" fill="#000" text-anchor="end" letter-spacing="0.3">100</text>
<text x="489.5" y="195.8" font-family='"Liberation Serif", serif' font-size="8" font-weight="bold" fill="#000" text-anchor="end" letter-spacing="0.3">120</text>
<text x="473.5" y="263.2" font-family='"Liberation Serif", serif' font-size="9" font-weight="bold" fill="#000" text-anchor="middle" transform="rotate(-90 473.5 263.2)" >RRR</text>
<text x="578" y="354.2" font-family='"Liberation Serif", serif' font-size="12" font-weight="bold" fill="#000" text-anchor="middle" >Materials</text>
<text x="494.4" y="187.4" font-family='"Liberation Sans", sans-serif' font-size="11.5" font-weight="bold" fill="#000" text-anchor="start" letter-spacing="0.9">f)</text>
<rect x="502.1" y="198.8" width="17.1" height="8.8" fill="#8000ff"/>
<text x="521.4" y="206.2" font-family='"Liberation Serif", serif' font-size="8.5" font-weight="bold" fill="#8000ff" text-anchor="start"  textLength="15" lengthAdjust="spacingAndGlyphs">RRR</text>
<text x="513.2" y="328" font-family='"Liberation Serif", serif' font-size="11.5" font-weight="bold" fill="#000" text-anchor="start" transform="rotate(-90 513.2 328)"  textLength="54" lengthAdjust="spacingAndGlyphs"><tspan dy="0">Co</tspan><tspan font-size="9.89" dy="2.3">2</tspan><tspan dy="-2.3">MnGa</tspan></text>
<text x="537.6" y="326" font-family='"Liberation Serif", serif' font-size="11.5" font-weight="bold" fill="#000" text-anchor="start" transform="rotate(-90 537.6 326)"  textLength="52.5" lengthAdjust="spacingAndGlyphs"><tspan dy="0">Fe</tspan><tspan font-size="9.89" dy="2.3">3</tspan><tspan dy="-2.3">GeTe</tspan><tspan font-size="9.89" dy="2.3">2</tspan></text>
<text x="562.4" y="326" font-family='"Liberation Serif", serif' font-size="11.5" font-weight="bold" fill="#000" text-anchor="start" transform="rotate(-90 562.4 326)"  textLength="37.3" lengthAdjust="spacingAndGlyphs"><tspan dy="0">Mn</tspan><tspan font-size="9.89" dy="2.3">3</tspan><tspan dy="-2.3">Sn</tspan></text>
<text x="584.4" y="322.3" font-family='"Liberation Serif", serif' font-size="11.5" font-weight="bold" fill="#000" text-anchor="start" transform="rotate(-90 584.4 322.3)"  textLength="53.5" lengthAdjust="spacingAndGlyphs"><tspan dy="0">Co</tspan><tspan font-size="9.89" dy="2.3">3</tspan><tspan dy="-2.3">Sn</tspan><tspan font-size="9.89" dy="2.3">2</tspan><tspan dy="-2.3">S</tspan><tspan font-size="9.89" dy="2.3">2</tspan></text>
<text x="608.2" y="301.1" font-family='"Liberation Serif", serif' font-size="11.5" font-weight="bold" fill="#000" text-anchor="start" transform="rotate(-90 608.2 301.1)"  textLength="36.2" lengthAdjust="spacingAndGlyphs"><tspan dy="0">Fe</tspan><tspan font-size="9.89" dy="2.3">3</tspan><tspan dy="-2.3">Sn</tspan><tspan font-size="9.89" dy="2.3">2</tspan></text>
<text x="634.4" y="280" font-family='"Liberation Serif", serif' font-size="11.5" font-weight="bold" fill="#fff" text-anchor="start" transform="rotate(-90 634.4 280)"  textLength="30" lengthAdjust="spacingAndGlyphs"><tspan dy="0">MnBi</tspan></text>
<text x="658.6" y="292.5" font-family='"Liberation Serif", serif' font-size="11.5" font-weight="bold" fill="#fff" text-anchor="start" transform="rotate(-90 658.6 292.5)"  textLength="84" lengthAdjust="spacingAndGlyphs"><tspan dy="0">Co</tspan><tspan font-size="9.89" dy="2.3">3.27</tspan><tspan dy="-2.3">Sn</tspan><tspan font-size="9.89" dy="2.3">1.73</tspan><tspan dy="-2.3">S</tspan><tspan font-size="9.89" dy="2.3">2</tspan></text>
</svg>
</body></html>
